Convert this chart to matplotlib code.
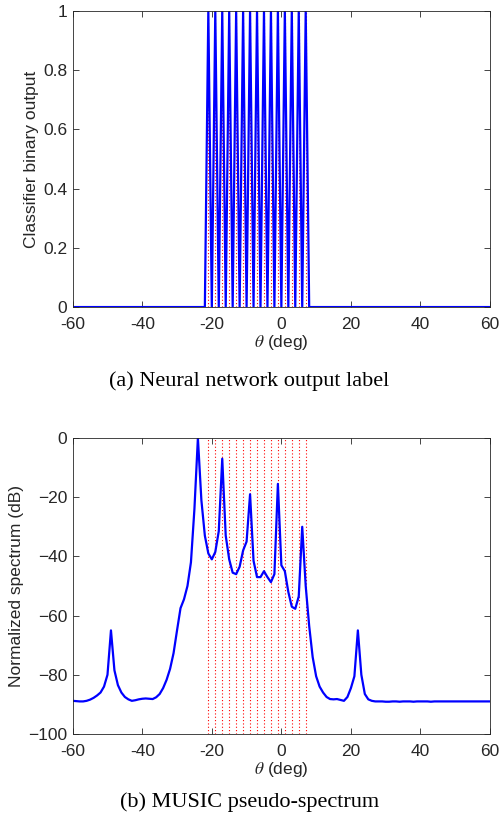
import numpy as np
import matplotlib
matplotlib.use("Agg")
import matplotlib.pyplot as plt

plt.rcParams['font.family'] = ['Liberation Sans', 'DejaVu Sans']
plt.rcParams['mathtext.fontset'] = 'stix'

# angle grid (deg)
theta = np.arange(-60, 61, 1)

# angles where the classifier says "source present" (red dotted grid too)
on_angles = [-21, -19, -17, -15, -13, -11, -9, -7, -5, -3, -1, 1, 3, 5, 7]
label = np.array([1 if t in on_angles else 0 for t in theta])

# MUSIC pseudo-spectrum (dB), one value per degree from -60 to 60
spectrum = [
    -88.8, -88.9, -89.0, -89.0, -88.8, -88.4, -87.8, -87.0, -86.0, -84.0,   # -60..-51
    -80.0, -65.0, -78.5, -83.5, -86.0, -87.5, -88.3, -88.8, -88.6, -88.3,   # -50..-41
    -88.1, -88.0, -88.1, -88.2, -87.6, -86.5, -84.5, -81.7, -78.0, -72.7,   # -40..-31
    -65.0, -57.5, -54.5, -50.0, -42.0, -24.0, 0.0, -21.0, -33.0, -39.0,     # -30..-21
    -41.0, -38.5, -31.5, -7.0, -33.0, -41.0, -45.5, -46.0, -43.5, -38.0,    # -20..-11
    -35.0, -19.0, -41.5, -47.0, -47.0, -45.0, -47.0, -48.7, -46.0, -15.5,   # -10..-1
    -43.0, -45.0, -52.0, -57.0, -57.7, -53.5, -30.0, -50.0, -63.5, -74.0,   # 0..9
    -80.5, -84.0, -86.0, -87.5, -88.2, -88.3, -88.2, -88.5, -88.8, -87.5,   # 10..19
    -84.5, -80.5, -65.0, -80.0, -86.5, -88.3, -88.8, -89.0, -89.0, -89.0,   # 20..29
    -89.1, -89.1, -89.0, -89.0, -89.1, -89.0, -89.0, -89.0, -89.1, -89.0,   # 30..39
    -89.0, -89.0, -89.0, -89.1, -89.0, -89.0, -89.0, -89.0, -89.0, -89.0,   # 40..49
    -89.0, -89.0, -89.0, -89.0, -89.0, -89.0, -89.0, -89.0, -89.0, -89.0,   # 50..59
    -89.0,                                                                  # 60
]

xticks = [-60, -40, -20, 0, 20, 40, 60]

fig = plt.figure(figsize=(4.99, 8.21), dpi=100)
ax1 = fig.add_axes([0.1457, 0.626, 0.8363, 0.3606])
ax2 = fig.add_axes([0.1457, 0.106, 0.8363, 0.3605])


def style(ax):
    for s in ax.spines.values():
        s.set_color('#262626')
        s.set_linewidth(0.6)
    ax.tick_params(direction='in', top=True, right=True, length=4,
                   width=0.6, color='#262626', labelsize=12.5, labelcolor='#262626')
    ax.tick_params(axis='x', pad=7)
    ax.tick_params(axis='y', pad=4)
    ax.set_xlim(-60, 60)
    ax.set_xticks(xticks)
    ax.set_xticklabels([str(t) for t in xticks])


# (a) classifier output
for a in on_angles:
    ax1.plot([a, a], [0, 1], color='red', ls=(0, (1, 2)), lw=0.8)
ax1.plot(theta, label, color='blue', lw=1.6)
style(ax1)
ax1.set_ylim(0, 1)
ax1.set_yticks([0, 0.2, 0.4, 0.6, 0.8, 1])
ax1.set_yticklabels(['0', '0.2', '0.4', '0.6', '0.8', '1'])
ax1.set_xlabel(r'$\theta$ (deg)', fontsize=12.5, color='#262626', labelpad=1)
ax1.set_ylabel('Classifier binary output', fontsize=12.5, color='#262626', labelpad=3)

# (b) MUSIC spectrum
for a in on_angles:
    ax2.plot([a, a], [-100, 0], color='red', ls=(0, (1, 2)), lw=0.8)
ax2.plot(theta, spectrum, color='blue', lw=1.6)
style(ax2)
ax2.set_ylim(-100, 0)
ax2.set_yticks([-100, -80, -60, -40, -20, 0])
ax2.set_xlabel(r'$\theta$ (deg)', fontsize=12.5, color='#262626', labelpad=1)
ax2.set_ylabel('Normalized spectrum (dB)', fontsize=12.5, color='#262626', labelpad=3)

fig.text(0.5, 1 - 381 / 821, '(a) Neural network output label', ha='center', va='center',
         family='Liberation Serif', fontsize=16)
fig.text(0.5, 1 - 802 / 821, '(b) MUSIC pseudo-spectrum', ha='center', va='center',
         family='Liberation Serif', fontsize=16)

fig.savefig('out.png', dpi=100)
